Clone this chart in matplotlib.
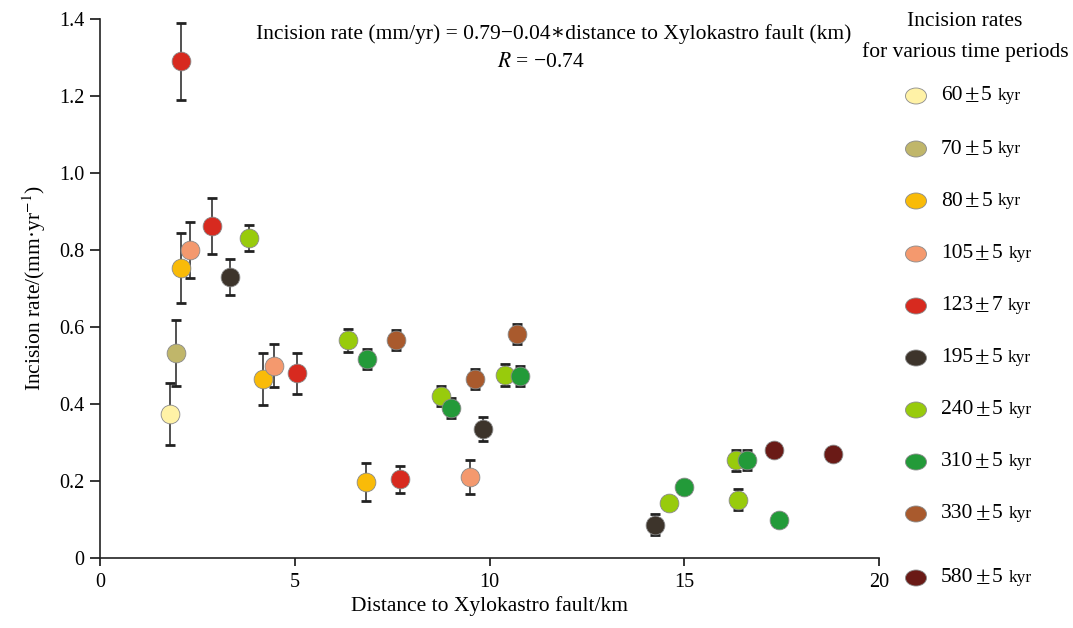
# Incision rate against distance to the Xylokastro fault, grouped by terrace age
import matplotlib
matplotlib.use('Agg')
import matplotlib.pyplot as plt
from matplotlib.patches import Ellipse
from matplotlib.ticker import FuncFormatter

plt.rcParams['font.family'] = ['Liberation Serif', 'DejaVu Serif']
plt.rcParams['mathtext.fontset'] = 'stix'

# age groups (kyr) and their colours
ages = ['60', '70', '80', '105', '123', '195', '240', '310', '330', '580']
age_err = ['5', '5', '5', '5', '7', '5', '5', '5', '5', '5']
colors = ['#FFF2A6', '#C0B66A', '#F9BB08', '#F4996E', '#D72A1F',
          '#3D342B', '#98CB0C', '#239A39', '#A95A2D', '#6A1A16']

# distance (km), incision rate (mm/yr), error (0 = no bar)
dist = [
    [1.80],
    [1.95],
    [2.08, 4.18, 6.83],
    [2.31, 4.47, 9.50],
    [2.08, 2.88, 5.06, 7.70],
    [3.34, 9.83, 14.25],
    [3.83, 6.37, 8.75, 10.40, 14.60, 16.33, 16.38],
    [6.85, 9.00, 10.78, 15.00, 16.60, 17.43],
    [7.60, 9.63, 10.70],
    [17.30, 18.82],
]
rate = [
    [0.374],
    [0.532],
    [0.753, 0.465, 0.197],
    [0.800, 0.500, 0.210],
    [1.290, 0.862, 0.480, 0.205],
    [0.730, 0.335, 0.086],
    [0.831, 0.566, 0.421, 0.475, 0.143, 0.254, 0.151],
    [0.517, 0.390, 0.473, 0.185, 0.255, 0.099],
    [0.566, 0.465, 0.582],
    [0.280, 0.270],
]
err = [
    [0.080],
    [0.085],
    [0.090, 0.067, 0.050],
    [0.073, 0.056, 0.045],
    [0.100, 0.073, 0.053, 0.035],
    [0.047, 0.030, 0.027],
    [0.033, 0.030, 0.025, 0.028, 0, 0.027, 0.027],
    [0.025, 0.026, 0.026, 0, 0.026, 0],
    [0.025, 0.025, 0.027],
    [0, 0],
]

fig = plt.figure(figsize=(10.73, 6.28), dpi=100)
ax = fig.add_axes([100 / 1073, 70 / 628, 779 / 1073, 539 / 628])

for i in range(len(ages)):
    xs = [x for x, e in zip(dist[i], err[i]) if e > 0]
    ys = [y for y, e in zip(rate[i], err[i]) if e > 0]
    es = [e for e in err[i] if e > 0]
    if xs:
        ax.errorbar(xs, ys, yerr=es, fmt='none', ecolor='#222222',
                    elinewidth=1.1, capsize=3.5, capthick=2.0, zorder=2)
    ax.plot(dist[i], rate[i], 'o', ms=13.5, mfc=colors[i], mec='#8a8a8a',
            mew=0.6, zorder=3 + i * 0.01)

ax.set_xlim(0, 20)
ax.set_ylim(0, 1.4)
ax.set_xticks([0, 5, 10, 15, 20])
ax.set_yticks([0, 0.2, 0.4, 0.6, 0.8, 1.0, 1.2, 1.4])
ax.yaxis.set_major_formatter(FuncFormatter(lambda v, p: '0' if v == 0 else '%.1f' % v))
for s in ['top', 'right']:
    ax.spines[s].set_visible(False)
for s in ['left', 'bottom']:
    ax.spines[s].set_linewidth(1.2)
    ax.spines[s].set_color('#222222')
ax.tick_params(axis='y', direction='out', length=7, width=1.1, labelsize=14.5, pad=4)
ax.tick_params(axis='x', direction='out', length=6, width=1.1, labelsize=14.5, pad=5)
ax.set_xlabel('Distance to Xylokastro fault/km', fontsize=15.5, labelpad=3)
ax.set_ylabel('Incision rate/(mm·yr$^{-1}$)', fontsize=15.5, labelpad=8)

ax.text(0.583, 0.972, 'Incision rate (mm/yr) = 0.79\u22120.04\u2217distance to Xylokastro fault (km)',
        transform=ax.transAxes, ha='center', va='center', fontsize=15.5)
ax.text(0.566, 0.92, '$R$ = \u22120.74', transform=ax.transAxes,
        ha='center', va='center', fontsize=15.5)

# legend drawn in pixel coordinates on an overlay
lg = fig.add_axes([0, 0, 1, 1], facecolor='none')
lg.set_xlim(0, 1073)
lg.set_ylim(628, 0)
lg.axis('off')
lg.text(965, 22, 'Incision rates', ha='center', va='center', fontsize=15.5)
lg.text(965, 52, 'for various time periods', ha='center', va='center', fontsize=15.5)
leg_y = [96, 149, 201, 254, 306, 358, 410, 462, 514, 578]
for i in range(len(ages)):
    lg.add_patch(Ellipse((916, leg_y[i]), 21, 16, facecolor=colors[i],
                         edgecolor='#8a8a8a', lw=0.6))
    t = lg.text(941, leg_y[i], ages[i], ha='left', va='center', fontsize=15.5)
    pm = lg.annotate('\u00b1', xy=(1, 0.5), xycoords=t, xytext=(1.5, 0),
                     textcoords='offset points', ha='left', va='center',
                     fontsize=19)
    t2 = lg.annotate(age_err[i], xy=(1, 0.5), xycoords=pm, xytext=(1.5, 0),
                     textcoords='offset points', ha='left', va='center',
                     fontsize=15.5)
    lg.annotate('kyr', xy=(1, 0.5), xycoords=t2, xytext=(4, 0),
                textcoords='offset points', ha='left', va='center',
                fontsize=12.5)

fig.savefig('out.png', dpi=100)
